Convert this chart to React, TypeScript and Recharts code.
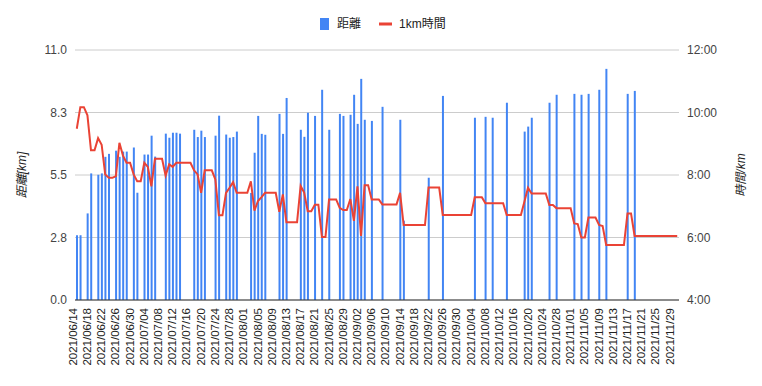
import React from 'react'
import { ComposedChart, Bar, Line, XAxis, YAxis, CartesianGrid } from 'recharts'

const FONT = '"Liberation Sans", Arial, "Noto Sans CJK JP", sans-serif'

// one category per day, 2021/06/14 .. 2021/11/30
const START = { year: 2021, month: 6, day: 14 }
const DAY_COUNT = 170

// 距離 [km] per day, null = no run that day
const distance: (number | null)[] = [
  2.85, 2.85, null, 3.81, 5.57, null, 5.51, 5.57, 6.30, 6.43,
  null, 6.57, 6.30, 6.53, 6.53, null, 6.71, 4.72, null, 6.40,
  6.40, 7.23, 6.31, null, null, 7.32, 7.14, 7.36, 7.36, 7.32,
  null, null, null, 7.49, 7.17, 7.45, 7.17, null, null, 7.23,
  8.11, null, 7.28, 7.14, 7.17, 7.41, null, null, null, 4.71,
  6.48, 8.10, 7.31, 7.27, null, null, null, 8.19, 7.31, 8.89,
  null, null, null, 7.49, 7.18, 8.24, null, 8.10, null, 9.25,
  null, 7.49, null, null, 8.19, 8.10, null, 8.15, 9.03, 7.75,
  9.73, 7.93, null, 7.88, null, null, 8.50, null, null, null,
  null, 7.93, 3.49, null, null, null, null, null, null, 5.38,
  null, null, null, 8.98, null, null, null, null, null, null,
  null, null, 8.02, null, null, 8.06, null, 8.02, null, null,
  null, 8.68, null, null, null, null, 7.41, 7.63, 8.02, null,
  null, null, null, 8.68, null, 9.03, null, null, null, null,
  9.07, null, 9.03, null, 9.07, null, null, 9.25, null, 10.17,
  null, null, null, null, null, 9.07, null, 9.20, null, null,
  null, null, null, null, null, null, null, null, null, null,
]

// 1km時間 in minutes per day (as plotted)
const pace: number[] = [
  9.48, 10.17, 10.17, 9.91, 8.79, 8.79, 9.18, 8.97, 8.02, 7.91,
  7.91, 7.96, 9.03, 8.62, 8.39, 8.39, 8.02, 7.80, 7.80, 8.39,
  8.26, 7.64, 8.52, 8.52, 8.52, 7.98, 8.34, 8.26, 8.39, 8.39,
  8.39, 8.39, 8.39, 8.15, 8.02, 7.43, 8.15, 8.15, 8.15, 7.86,
  6.71, 6.71, 7.43, 7.59, 7.77, 7.43, 7.43, 7.43, 7.43, 7.80,
  6.86, 7.17, 7.29, 7.43, 7.43, 7.43, 7.43, 6.82, 7.38, 6.49,
  6.49, 6.49, 6.49, 7.65, 7.44, 6.84, 6.84, 7.05, 7.05, 6.02,
  6.02, 7.22, 7.22, 7.22, 6.95, 6.88, 6.88, 7.23, 6.53, 7.64,
  6.05, 7.67, 7.67, 7.22, 7.22, 7.22, 7.06, 7.06, 7.06, 7.06,
  7.06, 7.43, 6.40, 6.40, 6.40, 6.40, 6.40, 6.40, 6.40, 7.60,
  7.60, 7.60, 7.60, 6.72, 6.72, 6.72, 6.72, 6.72, 6.72, 6.72,
  6.72, 6.72, 7.29, 7.29, 7.29, 7.10, 7.10, 7.10, 7.10, 7.10,
  7.10, 6.72, 6.72, 6.72, 6.72, 6.72, 7.15, 7.59, 7.41, 7.41,
  7.41, 7.41, 7.41, 7.04, 7.04, 6.94, 6.94, 6.94, 6.94, 6.94,
  6.45, 6.43, 6.00, 6.00, 6.64, 6.64, 6.64, 6.40, 6.37, 5.76,
  5.76, 5.76, 5.76, 5.76, 5.76, 6.77, 6.77, 6.05, 6.05, 6.05,
  6.05, 6.05, 6.05, 6.05, 6.05, 6.05, 6.05, 6.05, 6.05, 6.05,
]

const distanceTicks = [0, 2.75, 5.5, 8.25, 11]
const paceTicks = [4, 6, 8, 10, 12]

const pad = (n: number) => String(n).padStart(2, '0')

const dates: string[] = []
{
  const d = new Date(START.year, START.month - 1, START.day)
  for (let i = 0; i < DAY_COUNT; i++) {
    dates.push(`${d.getFullYear()}/${pad(d.getMonth() + 1)}/${pad(d.getDate())}`)
    d.setDate(d.getDate() + 1)
  }
}

const chartData = dates.map((date, i) => ({ date, distance: distance[i], pace: pace[i] }))

const DateTick = ({ x, y, payload }: any) => (
  <text
    x={x} y={y + 8}
    transform={`rotate(-90, ${x}, ${y + 8})`}
    textAnchor="end"
    fontSize={11.5}
    fontFamily={FONT}
    fill="#222"
  >{payload.value}</text>
)

export default function App() {
  return (
    <div style={{ position: 'absolute', left: 0, top: 0, width: 762, height: 386, background: '#fff', fontFamily: FONT }}>
      <ComposedChart
        width={762} height={386} data={chartData}
        margin={{ top: 50, right: 23, bottom: 0, left: 15 }}
      >
        <CartesianGrid yAxisId="left" vertical={false} stroke="#cccccc" />
        <XAxis
          dataKey="date" interval={3} height={86}
          tick={<DateTick />} tickLine={false} tickSize={0} tickMargin={0}
          axisLine={{ stroke: '#333333' }}
        />
        <YAxis
          yAxisId="left" width={60} domain={[0, 11]} ticks={distanceTicks}
          tickFormatter={(v: number) => v.toFixed(1)}
          tick={{ fontSize: 12, fill: '#444', fontFamily: FONT }}
          axisLine={false} tickLine={false}
        />
        <YAxis
          yAxisId="right" orientation="right" width={60} domain={[4, 12]} ticks={paceTicks}
          tickFormatter={(v: number) => `${v}:00`}
          tick={{ fontSize: 12, fill: '#444', fontFamily: FONT }}
          axisLine={false} tickLine={false}
        />
        <Bar yAxisId="left" dataKey="distance" fill="#4285F4" barSize={2} isAnimationActive={false} />
        <Line
          yAxisId="right" dataKey="pace" type="linear" stroke="#EA4335" strokeWidth={2}
          dot={false} activeDot={false} isAnimationActive={false}
        />
      </ComposedChart>

      <svg width={762} height={386} style={{ position: 'absolute', left: 0, top: 0, pointerEvents: 'none' }}>
        {/* legend */}
        <rect x={320} y={18} width={9} height={12} fill="#4285F4" />
        <text x={337} y={28} fontSize={12} fill="#222" fontFamily={FONT}>距離</text>
        <rect x={379} y={22.5} width={13} height={3} fill="#EA4335" />
        <text x={399} y={28} fontSize={12} fill="#222" fontFamily={FONT}>1km時間</text>
        {/* axis titles */}
        <text x={26} y={175} transform="rotate(-90, 26, 175)" textAnchor="middle" fontSize={12} fontStyle="italic" fill="#222" fontFamily={FONT}>距離[km]</text>
        <text x={745} y={175} transform="rotate(-90, 745, 175)" textAnchor="middle" fontSize={12} fontStyle="italic" fill="#222" fontFamily={FONT}>時間/km</text>
      </svg>
    </div>
  )
}
